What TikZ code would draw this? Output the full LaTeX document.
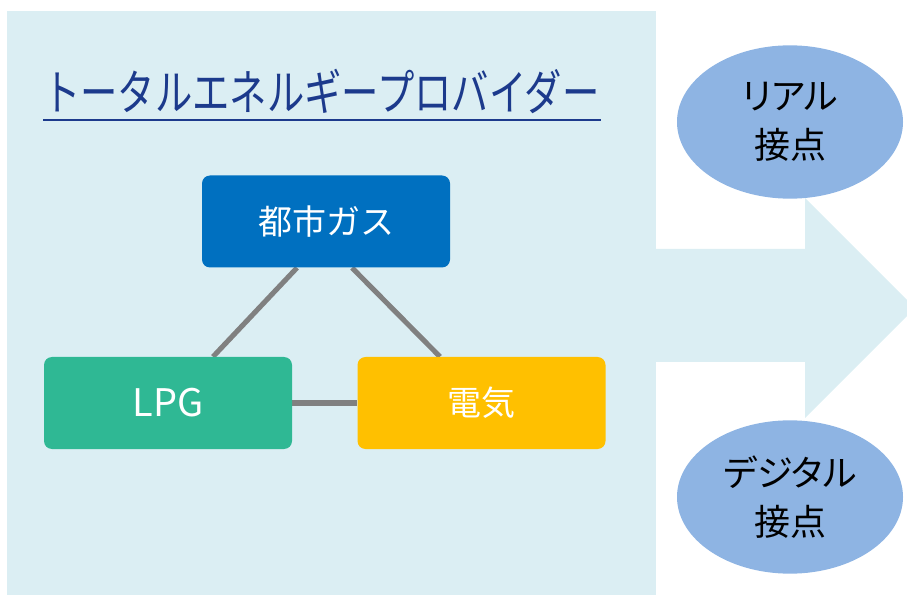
\documentclass[tikz,border=0pt]{standalone}
\usepackage{fontspec}
\setmainfont{Noto Sans CJK JP}
\newfontfamily\jpfont{Noto Sans CJK JP}
\newfontfamily\jpprop[RawFeature=+palt]{Noto Sans CJK JP}
\usetikzlibrary{calc,shapes.geometric}
\pgfdeclarelayer{back}
\pgfdeclarelayer{mid}
\pgfsetlayers{back,mid,main}
\definecolor{panel}{RGB}{219,238,243}
\definecolor{gasblue}{RGB}{0,112,192}
\definecolor{lpggreen}{RGB}{47,184,148}
\definecolor{elecyellow}{RGB}{255,192,0}
\definecolor{ellblue}{RGB}{142,180,227}
\definecolor{titleblue}{RGB}{28,58,140}
\definecolor{linkgray}{RGB}{128,128,128}
\tikzset{
  box/.style={rounded corners=6pt, minimum width=186pt, minimum height=69pt, text=white, font=\jpfont\fontsize{25.5}{30}\selectfont, inner sep=0pt},
  touch/.style={ellipse, fill=ellblue, minimum width=169.5pt, minimum height=115pt, inner sep=0pt, align=center, font=\jpprop\fontsize{27}{37}\selectfont},
  link/.style={draw=linkgray, line width=3.8pt}
}
\begin{document}
\begin{tikzpicture}[x=0.75pt,y=-0.75pt]
\useasboundingbox (0,0) rectangle (907,595);
\begin{pgfonlayer}{back}
% panel
\fill[panel] (7,11) rectangle (656,595);
% arrow
\fill[panel] (655,249) -- (805,249) -- (805,198) -- (915,308) -- (805,418) -- (805,362) -- (655,362) -- cycle;
\end{pgfonlayer}
% title
\node[anchor=base west, inner sep=0pt, text=titleblue, font=\jpfont\fontsize{28}{32}\selectfont] (title) at (43,111) {\scalebox{1}[1.3]{トータルエネルギープロバイダー}};
\draw[titleblue, line width=1.9pt] ($(title.base west)+(0,9)$) -- ($(title.base east)+(1,9)$);
% boxes
\node[box, fill=gasblue] (gas) at (326,221.5) {都市ガス};
\node[box, fill=lpggreen, font=\jpfont\fontsize{28.5}{32}\selectfont] (lpg) at (168,403) {LPG};
\node[box, fill=elecyellow] (elec) at (481.5,403) {電気};
% links
\begin{pgfonlayer}{mid}
\draw[link] ($(gas.south)+(-29,0)$) -- ($(lpg.north)+(45,0)$);
\draw[link] ($(gas.south)+(26,0)$) -- ($(elec.north)+(-41.5,0)$);
\draw[link] (lpg.east) -- (elec.west);
\end{pgfonlayer}
% ellipses
\node[touch] (real) at (790,122) {リアル\\接点};
\node[touch] (digital) at (790,497) {デジタル\\接点};
\end{tikzpicture}
\end{document}
